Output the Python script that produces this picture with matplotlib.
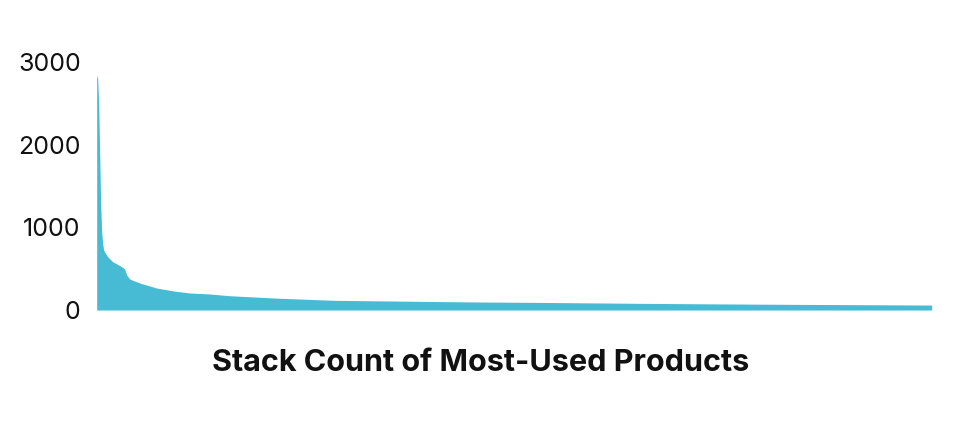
#!/usr/bin/env python3
import matplotlib
matplotlib.use('Agg')
import matplotlib.pyplot as plt

# product rank (most-used first) and the number of stacks using it,
# read off the reference curve
ranks = [1, 2, 3, 4, 5, 6, 7, 8, 10, 12, 17, 23, 27, 29, 31, 34, 44, 61,
         78, 94, 114, 134, 184, 239, 317, 344, 384, 444, 544, 621, 704,
         774, 836]
stack_counts = [2840, 2800, 2500, 1900, 1295, 950, 800, 726, 680, 645, 584,
                545, 515, 495, 424, 375, 327, 266, 230, 206, 194, 173, 142,
                117, 106, 102, 97, 92, 81, 74, 68, 64, 60]
y_ticks = [0, 1000, 2000, 3000]
title = 'Stack Count of Most-Used Products'

plt.rcParams['font.family'] = ['Inter', 'DejaVu Sans']

fig = plt.figure(figsize=(9.6, 4.3), dpi=100)
ax = fig.add_axes([0.1007, 0.279, 0.8698, 0.577])

ax.fill_between(ranks, stack_counts, 0, color='#47BBD3', linewidth=0)

ax.set_xlim(ranks[0], ranks[-1])
ax.set_ylim(0, 3000)
ax.set_yticks(y_ticks)
ax.set_yticklabels([str(t) for t in y_ticks])
ax.set_xticks([])
ax.tick_params(axis='y', length=0, pad=11.5, labelsize=18, labelcolor='#111111')
for s in ax.spines.values():
    s.set_visible(False)

fig.text(0.5005, 0.155, title, ha='center', va='center',
         fontsize=22, fontweight='bold', color='#111111')

fig.savefig('out.png', dpi=100)
